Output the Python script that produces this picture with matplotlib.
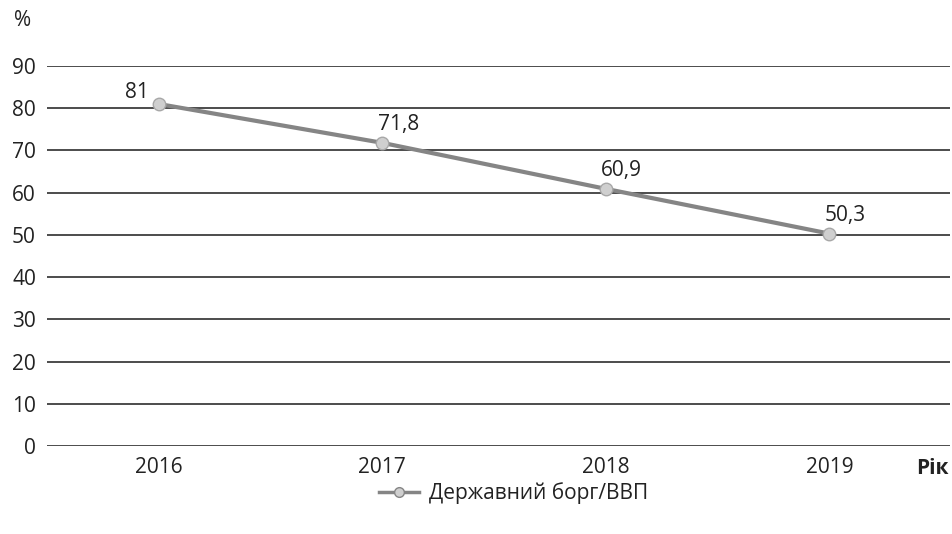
import matplotlib.pyplot as plt
from matplotlib.lines import Line2D
import numpy as np

plt.rcParams['font.family'] = ['Open Sans', 'DejaVu Sans']

years = ['2016', '2017', '2018', '2019']
debt = [81, 71.8, 60.9, 50.3]
labels = ['81', '71,8', '60,9', '50,3']
yticks = [0, 10, 20, 30, 40, 50, 60, 70, 80, 90]

fig = plt.figure(figsize=(9.52, 5.34), dpi=100)
ax = fig.add_axes([0.0494, 0.1648, 0.9486, 0.7116])

x = np.arange(len(years))
for y in yticks:
    ax.axhline(y, color='#2e2e2e', lw=1.2, zorder=1)

ax.plot(x, debt, color='#858585', lw=3, marker='o', markersize=9,
        markerfacecolor='#cfcfcf', markeredgecolor='#a8a8a8', markeredgewidth=1,
        zorder=3)

for i, (v, t) in enumerate(zip(debt, labels)):
    off = (-16, 4) if i == 0 else (11.5, 9)
    ax.annotate(t, (x[i], v), xytext=off, textcoords='offset points',
                ha='center', va='baseline', fontsize=15, color='#222222')

ax.set_xlim(-0.5, 3.54)
ax.set_ylim(0, 90)
ax.set_xticks(x)
ax.set_xticklabels(years)
ax.set_yticks(yticks)
ax.tick_params(length=0, labelsize=15, colors='#222222')
ax.tick_params(axis='y', pad=8)
ax.tick_params(axis='x', pad=8)
for s in ax.spines.values():
    s.set_visible(False)

fig.text(23 / 952, 1 - 21 / 534, '%', fontsize=15, ha='center', va='center', color='#222222')
fig.text(932 / 952, 1 - 468 / 534, 'Рік', fontsize=15, fontweight='bold',
         ha='center', va='center', color='#222222')

handle = Line2D([], [], color='#858585', lw=2.5, marker='o', markersize=7,
                markerfacecolor='#cfcfcf', markeredgecolor='#858585', markeredgewidth=1)
fig.legend([handle], ['Державний борг/ВВП'], loc='center',
           bbox_to_anchor=(514 / 952, 1 - 493 / 534), frameon=False,
           fontsize=15, handlelength=1.9, handletextpad=0.5, labelcolor='#222222')

fig.savefig('out.png', dpi=100)
